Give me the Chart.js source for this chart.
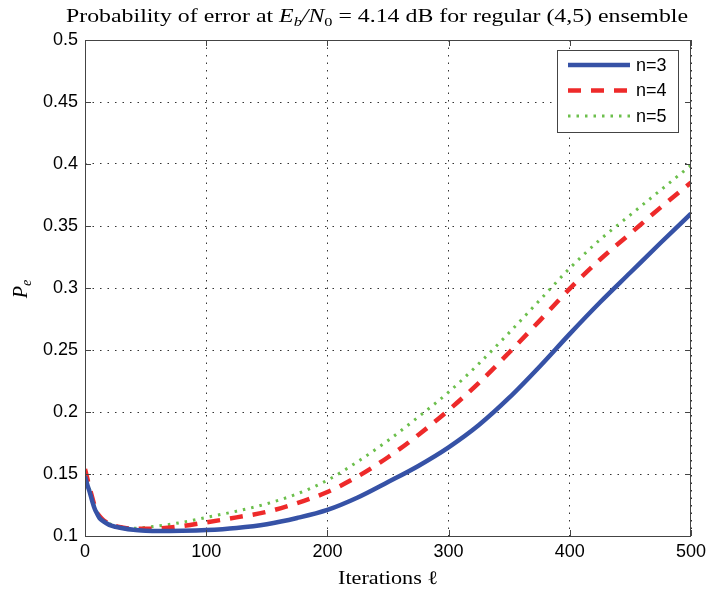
<!DOCTYPE html>
<html>
<head>
<meta charset="utf-8">
<script src="https://cdn.jsdelivr.net/npm/chart.js@4"></script>
<style>
  html, body { margin: 0; padding: 0; background: #fff; }
  #wrap { width: 708px; height: 593px; }
</style>
</head>
<body>
<div id="wrap"><canvas id="grafico" width="708" height="593"></canvas></div>
<script>
const iteracoes = [0, 2, 4, 6, 8, 10, 12, 15, 20, 25, 30, 40, 50, 60, 80, 100, 125, 150, 175, 200,
                   225, 250, 275, 300, 325, 350, 375, 400, 425, 450, 475, 500];

const pe_n3 = [0.148, 0.141, 0.135, 0.128, 0.122, 0.118, 0.1145, 0.112, 0.109, 0.1075, 0.1065, 0.105,
               0.1043, 0.104, 0.1042, 0.1048, 0.1065, 0.1095, 0.1145, 0.121,
               0.131, 0.1435, 0.1565, 0.1715, 0.1895, 0.2115, 0.2365, 0.263, 0.2885, 0.3125, 0.3365, 0.36];

const pe_n4 = [0.154, 0.146, 0.138, 0.131, 0.124, 0.119, 0.116, 0.113, 0.110, 0.108, 0.107, 0.1058,
               0.1058, 0.106, 0.108, 0.111, 0.115, 0.1195, 0.1265, 0.1355,
               0.148, 0.1635, 0.1815, 0.2015, 0.2235, 0.248, 0.2735, 0.2995, 0.323, 0.344, 0.365, 0.385];

const pe_n5 = [0.152, 0.145, 0.137, 0.13, 0.123, 0.119, 0.116, 0.113, 0.110, 0.108, 0.1072, 0.1062,
               0.107, 0.108, 0.111, 0.115, 0.12, 0.126, 0.134, 0.145,
               0.16, 0.177, 0.196, 0.216, 0.239, 0.264, 0.29, 0.316, 0.339, 0.359, 0.379, 0.399];

const legendas = ['n=3', 'n=4', 'n=5'];
const xTicks = [0, 100, 200, 300, 400, 500];
const yTicks = [0.1, 0.15, 0.2, 0.25, 0.3, 0.35, 0.4, 0.45, 0.5];
const yTickLabels = ['0.1', '0.15', '0.2', '0.25', '0.3', '0.35', '0.4', '0.45', '0.5'];

function pontos(valores) {
    return iteracoes.map((it, i) => ({ x: it, y: valores[i] }));
}

// draws a list of [text, font, dy] pieces centred at cx, stretched to width w
function textoMisto(ctx, partes, cx, y, w) {
    let total = 0;
    partes.forEach(p => { ctx.font = p[1]; total += ctx.measureText(p[0]).width; });
    const sx = w ? w / total : 1;
    ctx.save();
    ctx.translate(cx - total * sx / 2, y);
    ctx.scale(sx, 1);
    let x = 0;
    partes.forEach(p => {
        ctx.font = p[1];
        ctx.fillText(p[0], x, p[2]);
        x += ctx.measureText(p[0]).width;
    });
    ctx.restore();
}

// frame, inward ticks, title, axis labels and legend box (MATLAB look)
const molduraPlugin = {
    id: 'moldura',
    afterDraw(chart) {
        const { ctx, chartArea: a, scales } = chart;
        ctx.save();
        ctx.strokeStyle = '#444';
        ctx.lineWidth = 1;
        ctx.strokeRect(a.left + 0.5, a.top + 0.5, a.right - a.left - 1, a.bottom - a.top);

        ctx.beginPath();
        xTicks.forEach(v => {
            const px = Math.round(scales.x.getPixelForValue(v)) + 0.5;
            ctx.moveTo(px, a.bottom); ctx.lineTo(px, a.bottom - 6);
            ctx.moveTo(px, a.top); ctx.lineTo(px, a.top + 6);
        });
        yTicks.forEach(v => {
            const py = Math.round(scales.y.getPixelForValue(v)) + 0.5;
            ctx.moveTo(a.left, py); ctx.lineTo(a.left + 6, py);
            ctx.moveTo(a.right, py); ctx.lineTo(a.right - 6, py);
        });
        ctx.stroke();

        // title with math
        ctx.fillStyle = '#000';
        ctx.textBaseline = 'alphabetic';
        ctx.textAlign = 'left';
        const serif = '"Liberation Serif"';
        textoMisto(ctx, [
            ['Probability of error at ', '19px ' + serif, 0],
            ['E', 'italic 19px ' + serif, 0],
            ['b', 'italic 13px ' + serif, 4],
            ['/N', 'italic 19px ' + serif, 0],
            ['0', '13px ' + serif, 4],
            [' = 4.14 dB for regular (4,5) ensemble', '19px ' + serif, 0]
        ], 377, 22, 622);

        // x label
        textoMisto(ctx, [['Iterations \u2113', '19px ' + serif, 0]], (a.left + a.right) / 2, 584, 100);

        // y label
        ctx.save();
        ctx.translate(27, (a.top + a.bottom) / 2);
        ctx.rotate(-Math.PI / 2);
        ctx.font = 'italic 20px ' + serif;
        ctx.textAlign = 'right';
        ctx.fillText('P', 2, 0);
        ctx.font = 'italic 14px ' + serif;
        ctx.textAlign = 'left';
        ctx.fillText('e', 2, 4);
        ctx.restore();

        // legend
        const lx = a.right - 134, ly = a.top + 10, lw = 121, lh = 82;
        ctx.fillStyle = '#fff';
        ctx.fillRect(lx, ly, lw, lh);
        ctx.strokeStyle = '#444';
        ctx.lineWidth = 1;
        ctx.strokeRect(lx + 0.5, ly + 0.5, lw, lh);
        chart.data.datasets.forEach((ds, i) => {
            const yy = ly + 15 + i * 25.5;
            ctx.save();
            ctx.strokeStyle = ds.borderColor;
            ctx.lineWidth = ds.borderWidth;
            ctx.setLineDash(ds.borderDash || []);
            ctx.beginPath();
            ctx.moveTo(lx + 11, yy); ctx.lineTo(lx + 73, yy);
            ctx.stroke();
            ctx.restore();
            ctx.fillStyle = '#000';
            ctx.font = '18px "Liberation Sans"';
            ctx.textAlign = 'left';
            ctx.textBaseline = 'middle';
            ctx.fillText(ds.label, lx + 79, yy + 1);
        });
        ctx.restore();
    }
};

document.addEventListener('DOMContentLoaded', function() {
    const ctx = document.getElementById('grafico').getContext('2d');

    const dados = {
        datasets: [{
            label: legendas[0],
            data: pontos(pe_n3),
            borderColor: '#3652a6',
            borderWidth: 4.5
        }, {
            label: legendas[1],
            data: pontos(pe_n4),
            borderColor: '#ee2a2a',
            borderWidth: 4.5,
            borderDash: [13, 10]
        }, {
            label: legendas[2],
            data: pontos(pe_n5),
            borderColor: '#6cbf4c',
            borderWidth: 3,
            borderDash: [2.5, 6]
        }]
    };

    const grade = {
        color: '#333',
        lineWidth: 1,
        drawTicks: false
    };

    const config = {
        type: 'line',
        data: dados,
        options: {
            responsive: false,
            animation: false,
            layout: { padding: { top: 40, right: 17, bottom: 0, left: 0 } },
            elements: {
                point: { radius: 0 },
                line: { cubicInterpolationMode: 'monotone', fill: false }
            },
            plugins: {
                legend: { display: false },
                title: { display: false },
                tooltip: { enabled: false }
            },
            scales: {
                x: {
                    type: 'linear',
                    min: 0,
                    max: 500,
                    afterBuildTicks: s => { s.ticks = xTicks.map(v => ({ value: v })); },
                    afterFit: s => { s.height = 57; s.paddingLeft = 0; s.paddingRight = 0; },
                    grid: grade,
                    border: { display: false, dash: [1.5, 6] },
                    ticks: {
                        color: '#000',
                        padding: 5,
                        font: { family: '"Liberation Sans"', size: 18 },
                        maxRotation: 0
                    }
                },
                y: {
                    min: 0.1,
                    max: 0.5,
                    afterBuildTicks: s => { s.ticks = yTicks.map(v => ({ value: v })); },
                    afterFit: s => { s.width = 85; s.paddingTop = 0; s.paddingBottom = 0; },
                    grid: grade,
                    border: { display: false, dash: [1.5, 6] },
                    ticks: {
                        color: '#000',
                        padding: 7,
                        font: { family: '"Liberation Sans"', size: 18 },
                        callback: (v, i) => yTickLabels[i]
                    }
                }
            }
        },
        plugins: [molduraPlugin]
    };

    new Chart(ctx, config);
});
</script>
</body>
</html>
